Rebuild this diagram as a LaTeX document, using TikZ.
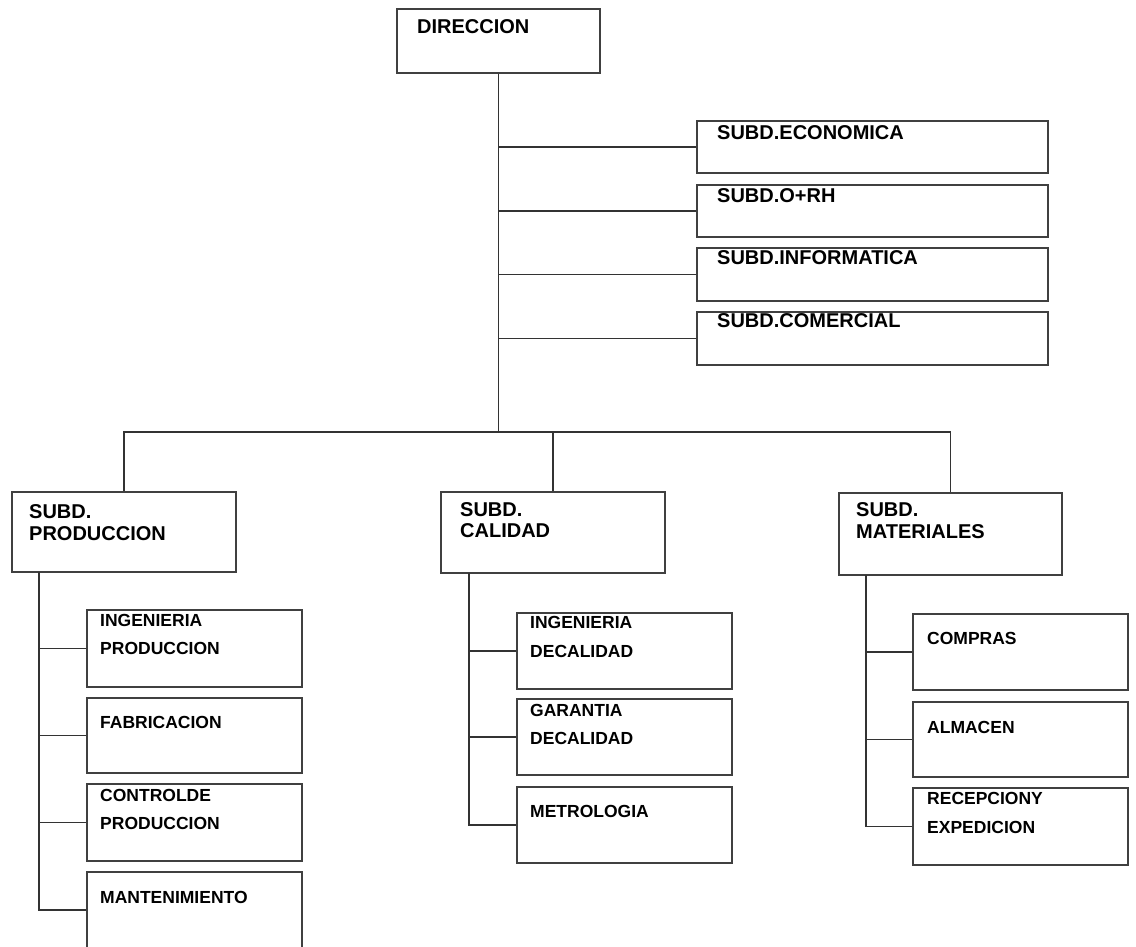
\documentclass[tikz,border=0pt]{standalone}
\usepackage{fontspec}
\setmainfont{Liberation Sans}
\usetikzlibrary{fit}
\tikzset{
  box/.style={draw=black!75, line width=1.9pt, inner sep=0pt, fill=none},
  conn/.style={draw=black!80, line width=1.9pt},
  big/.style={anchor=base west, inner sep=0pt, font=\bfseries\fontsize{20}{22}\selectfont},
  small/.style={anchor=base west, inner sep=0pt, font=\bfseries\fontsize{17.5}{20}\selectfont},
}
\begin{document}
\begin{tikzpicture}[x=1pt,y=-1pt]
\useasboundingbox[fill=white] (0,0) rectangle (1136,946);

% top
\node[box, fit={(397,9) (600,73)}] (dir) {};
\node[big] (dirt) at (417,33) {DIRECCION};

% right staff boxes
\node[box, fit={(697,121) (1048,173)}] (eco) {};
\node[box, fit={(697,185) (1048,237)}] (orh) {};
\node[box, fit={(697,248) (1048,301)}] (inf) {};
\node[box, fit={(697,312) (1048,365)}] (com) {};
\node[big] (ecot) at (717,139) {SUBD.ECONOMICA};
\node[big] (orht) at (717,202) {SUBD.O+RH};
\node[big] (inft) at (717,264) {SUBD.INFORMATICA};
\node[big] (comt) at (717,327) {SUBD.COMERCIAL};

% second level
\node[box, fit={(12,492) (236,572)}] (prod) {};
\node[box, fit={(441,492) (665,573)}] (cal) {};
\node[box, fit={(839,493) (1062,575)}] (mat) {};
\node[big] (prodt1) at (29,518) {SUBD.};
\node[big] (prodt2) at (29,540) {PRODUCCION};
\node[big] (calt1) at (460,516) {SUBD.};
\node[big] (calt2) at (460,537) {CALIDAD};
\node[big] (matt1) at (856,516) {SUBD.};
\node[big] (matt2) at (856,538) {MATERIALES};

% produccion children
\node[box, fit={(87,610) (302,687)}] (p1) {};
\node[box, fit={(87,698) (302,773)}] (p2) {};
\node[box, fit={(87,784) (302,861)}] (p3) {};
\node[box, fit={(87,872) (302,948)}] (p4) {};
\node[small] (p1a) at (100,626) {INGENIERIA};
\node[small] (p1b) at (100,654) {PRODUCCION};
\node[small] (p2a) at (100,728) {FABRICACION};
\node[small] (p3a) at (100,801) {CONTROLDE};
\node[small] (p3b) at (100,829) {PRODUCCION};
\node[small] (p4a) at (100,903) {MANTENIMIENTO};

% calidad children
\node[box, fit={(517,613) (732,689)}] (c1) {};
\node[box, fit={(517,699) (732,775)}] (c2) {};
\node[box, fit={(517,787) (732,863)}] (c3) {};
\node[small] (c1a) at (530,628) {INGENIERIA};
\node[small] (c1b) at (530,657) {DECALIDAD};
\node[small] (c2a) at (530,716) {GARANTIA};
\node[small] (c2b) at (530,744) {DECALIDAD};
\node[small] (c3a) at (530,817) {METROLOGIA};

% materiales children
\node[box, fit={(913,614) (1128,690)}] (m1) {};
\node[box, fit={(913,702) (1128,777)}] (m2) {};
\node[box, fit={(913,788) (1128,865)}] (m3) {};
\node[small] (m1a) at (927,644) {COMPRAS};
\node[small] (m2a) at (927,733) {ALMACEN};
\node[small] (m3a) at (927,804) {RECEPCIONY};
\node[small] (m3b) at (927,833) {EXPEDICION};

% connectors
\coordinate (bar) at (498,432);
\coordinate (pt) at (39,572);
\coordinate (ct) at (469,573);
\coordinate (mt) at (866,575);

\draw[conn] (dir.south) -- (dir.south |- bar);
\foreach \b in {eco,orh,inf,com}
  \draw[conn] (\b.west) -- (\b.west -| dir.south);
\draw[conn] (prod.north) |- (bar) -| (mat.north);
\draw[conn] (cal.north) -- (cal.north |- bar);

\draw[conn] (pt) |- (p4.west);
\foreach \b in {p1,p2,p3}
  \draw[conn] (\b.west) -- (\b.west -| pt);
\draw[conn] (ct) |- (c3.west);
\foreach \b in {c1,c2}
  \draw[conn] (\b.west) -- (\b.west -| ct);
\draw[conn] (mt) |- (m3.west);
\foreach \b in {m1,m2}
  \draw[conn] (\b.west) -- (\b.west -| mt);
\end{tikzpicture}
\end{document}
